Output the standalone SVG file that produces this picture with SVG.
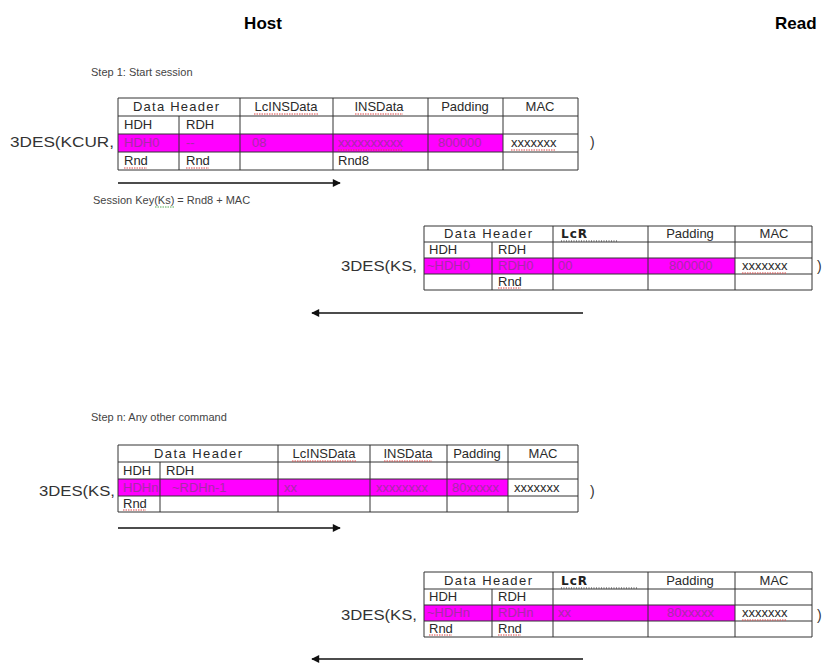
<svg xmlns="http://www.w3.org/2000/svg" width="824" height="668" viewBox="0 0 824 668">
<defs>
<style>
.t{font-family:"Liberation Sans",Arial,sans-serif;font-size:13px;fill:#2a2a2a}
.s{font-family:"Liberation Sans",Arial,sans-serif;font-size:11px;fill:#444}
.k{font-family:"Liberation Sans",Arial,sans-serif;font-size:14px;fill:#333}
.h{font-family:"Liberation Sans",Arial,sans-serif;font-size:17px;font-weight:bold;fill:#000}
.b{font-family:"DejaVu Sans",Verdana,sans-serif;font-size:12px;font-weight:bold;fill:#222;letter-spacing:1px}
.m{fill:#a82aa8}
.c{text-anchor:middle}
.g{stroke:#333;stroke-width:1;fill:none}
.mag{fill:#ff00ff}
.w{fill:#fff}
.sp{stroke:#d44;stroke-width:1;stroke-dasharray:1.5 1;fill:none}
.gr{stroke:#5a5;stroke-width:1;stroke-dasharray:1.5 1;fill:none}
.du{stroke:#333;stroke-width:1;stroke-dasharray:1 1.5;fill:none}
.ar{stroke:#111;stroke-width:1.3;fill:none}
</style>
<marker id="ah" viewBox="0 0 10 10" refX="9" refY="5" markerWidth="10" markerHeight="8" markerUnits="userSpaceOnUse" orient="auto">
<path d="M0,0 L10,5 L0,10 z" fill="#111"/>
</marker>
</defs>
<rect width="824" height="668" fill="#fff"/>

<g id="titles">
<text class="h c" x="263" y="29">Host</text>
<text class="h" x="775" y="29">Read</text>
<text class="s" x="91" y="76">Step 1: Start session</text>
<text class="s" x="91" y="421">Step n: Any other command</text>
<text class="s" x="93" y="204">Session Key(Ks) = Rnd8 + MAC</text>
<path class="gr" d="M155,207 H174"/>
</g>

<g id="table1">
<rect class="mag" x="118" y="134" width="385" height="18"/>
<rect class="w" x="503" y="134" width="75" height="18"/>
<path class="g" d="M118,98 H578 V170 H118 Z M118,116 H578 M118,134 H578 M118,152 H578 M179,116 V170 M240,98 V170 M333,98 V170 M428,98 V170 M503,98 V170"/>
<text class="t c" x="176" y="111" textLength="86" lengthAdjust="spacing">Data Header</text>
<text class="t c" x="286" y="111">LcINSData</text>
<text class="t c" x="379" y="111">INSData</text>
<text class="t c" x="465" y="111">Padding</text>
<text class="t c" x="540" y="111">MAC</text>
<text class="t" x="124" y="129">HDH</text>
<text class="t" x="186" y="129">RDH</text>
<text class="t m" x="124" y="147">HDH0</text>
<text class="t m" x="186" y="147">--</text>
<text class="t m" x="252" y="147">08</text>
<text class="t m" x="338" y="147">xxxxxxxxxx</text>
<text class="t m" x="438" y="147">800000</text>
<text class="t" x="511" y="147">xxxxxxx</text>
<text class="t" x="124" y="165">Rnd</text>
<text class="t" x="186" y="165">Rnd</text>
<text class="t" x="338" y="165">Rnd8</text>
<path class="sp" d="M254,114 H318 M355,114 H403 M124,168 H147 M186,168 H209 M338,150 H403 M511,150 H555"/>
<text class="k" x="10" y="147" textLength="104" lengthAdjust="spacingAndGlyphs">3DES(KCUR,</text>
<text class="k" x="590" y="147">)</text>
</g>

<g id="table2">
<rect class="mag" x="424" y="258" width="311" height="16"/>
<path class="g" d="M424,226 H812 V290 H424 Z M424,242 H812 M424,258 H812 M424,274 H812 M492,242 V290 M553,226 V290 M648,226 V290 M735,226 V290"/>
<text class="t c" x="488" y="238" textLength="88" lengthAdjust="spacing">Data Header</text>
<text class="b" x="561" y="238">LcR</text>
<path class="du" d="M561,241 H617"/>
<text class="t c" x="690" y="238">Padding</text>
<text class="t c" x="774" y="238">MAC</text>
<text class="t" x="429" y="254">HDH</text>
<text class="t" x="498" y="254">RDH</text>
<text class="t m" x="427" y="270">~HDH0</text>
<text class="t m" x="498" y="270">RDH0</text>
<text class="t m" x="558" y="270">00</text>
<text class="t m" x="669" y="270">800000</text>
<text class="t" x="742" y="270">xxxxxxx</text>
<text class="t" x="498" y="286">Rnd</text>
<path class="sp" d="M742,273 H786 M498,288 H521"/>
<text class="k" x="341" y="271" textLength="76" lengthAdjust="spacingAndGlyphs">3DES(KS,</text>
<text class="k" x="817" y="271">)</text>
</g>

<g id="table3">
<rect class="mag" x="118" y="479" width="390" height="17"/>
<path class="g" d="M118,445 H578 V512 H118 Z M118,462 H578 M118,479 H578 M118,496 H578 M160,462 V512 M278,445 V512 M370,445 V512 M447,445 V512 M508,445 V512"/>
<text class="t c" x="198" y="458" textLength="88" lengthAdjust="spacing">Data Header</text>
<text class="t c" x="324" y="458">LcINSData</text>
<text class="t c" x="408" y="458">INSData</text>
<text class="t c" x="477" y="458">Padding</text>
<text class="t c" x="543" y="458">MAC</text>
<text class="t" x="123" y="475">HDH</text>
<text class="t" x="166" y="475">RDH</text>
<text class="t m" x="123" y="492">HDHn</text>
<text class="t m" x="172" y="492">~RDHn-1</text>
<text class="t m" x="284" y="492">xx</text>
<text class="t m" x="376" y="492">xxxxxxxx</text>
<text class="t m" x="452" y="492">80xxxxx</text>
<text class="t" x="514" y="492">xxxxxxx</text>
<text class="t" x="123" y="508">Rnd</text>
<path class="sp" d="M292,461 H356 M384,461 H432 M123,510 H146"/>
<text class="k" x="39" y="496" textLength="76" lengthAdjust="spacingAndGlyphs">3DES(KS,</text>
<text class="k" x="590" y="496">)</text>
</g>

<g id="table4">
<rect class="mag" x="424" y="605" width="311" height="16"/>
<path class="g" d="M424,572 H812 V637 H424 Z M424,589 H812 M424,605 H812 M424,621 H812 M492,589 V637 M553,572 V637 M648,572 V637 M735,572 V637"/>
<text class="t c" x="488" y="585" textLength="88" lengthAdjust="spacing">Data Header</text>
<text class="b" x="561" y="585">LcR</text>
<path class="du" d="M561,588 H637"/>
<text class="t c" x="690" y="585">Padding</text>
<text class="t c" x="774" y="585">MAC</text>
<text class="t" x="429" y="601">HDH</text>
<text class="t" x="498" y="601">RDH</text>
<text class="t m" x="427" y="617">~HDHn</text>
<text class="t m" x="498" y="617">RDHn</text>
<text class="t m" x="558" y="617">xx</text>
<text class="t m" x="667" y="617">80xxxxx</text>
<text class="t" x="742" y="617">xxxxxxx</text>
<text class="t" x="429" y="633">Rnd</text>
<text class="t" x="498" y="633">Rnd</text>
<path class="sp" d="M742,620 H786 M429,635 H452 M498,635 H521"/>
<text class="k" x="341" y="620" textLength="76" lengthAdjust="spacingAndGlyphs">3DES(KS,</text>
<text class="k" x="817" y="620">)</text>
</g>

<g id="connectors">
<line class="ar" x1="118" y1="183" x2="340" y2="183" marker-end="url(#ah)"/>
<line class="ar" x1="583" y1="313" x2="312" y2="313" marker-end="url(#ah)"/>
<line class="ar" x1="118" y1="528" x2="340" y2="528" marker-end="url(#ah)"/>
<line class="ar" x1="583" y1="659" x2="312" y2="659" marker-end="url(#ah)"/>
</g>
</svg>
